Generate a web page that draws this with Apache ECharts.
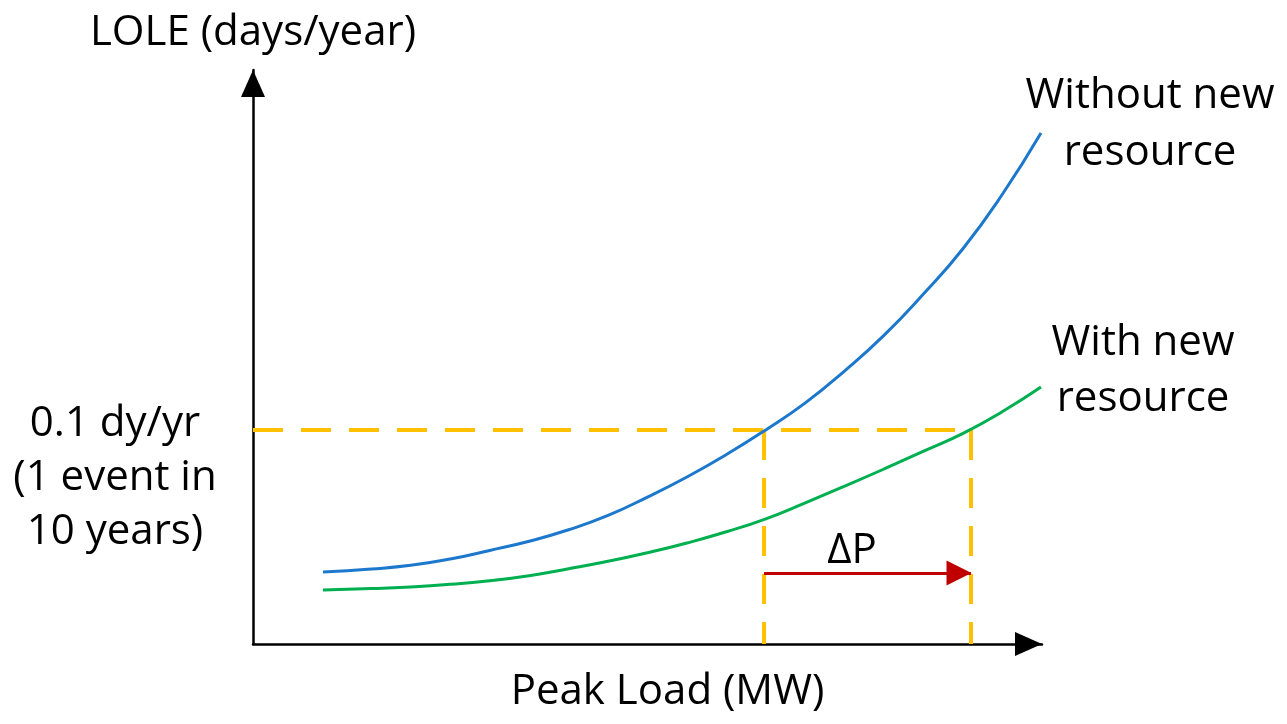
<!DOCTYPE html>
<html><head><meta charset="utf-8">
<script src="https://cdn.jsdelivr.net/npm/echarts@6/dist/echarts.min.js"></script>
<style>html,body{margin:0;padding:0;background:#fff}#c{width:1287px;height:724px}</style>
</head><body><div id="c"></div>
<script>
// Peak load (x) and LOLE (y) on a normalised 0-100 scale
const loadSteps = [8.87, 15, 20, 25, 30, 35, 40, 45, 50, 55, 60, 65, 70, 75, 80, 85, 90, 95, 99.87];
const withoutLole = [12.54, 13.07, 13.7, 14.8, 16.3, 17.9, 19.9, 22.4, 25.6, 29.1, 33.0, 37.3, 42.0, 47.6, 53.8, 61.0, 68.9, 78.4, 89.02];
const withLole = [9.41, 9.65, 9.95, 10.4, 11.0, 11.9, 13.1, 14.4, 15.9, 17.6, 19.55, 21.8, 24.6, 27.5, 30.5, 33.6, 36.7, 40.5, 44.77];
const criterionLole = 37.28;            // 0.1 dy/yr
const crossLoad = [64.77, 91.0];        // peak load meeting the criterion: without / with new resource
const deltaPLevel = 12.37;

const FONT = '"Open Sans", Lato, sans-serif';
const FS = 42;
const pair = (xs, ys) => xs.map((x, i) => [x, ys[i]]);
const dash = { color: '#FFC000', width: 4, type: [30, 18] };

const chart = echarts.init(document.getElementById('c'));
chart.setOption({
  animation: false,
  grid: { left: 253, right: 245, top: 70, bottom: 80 },
  xAxis: {
    type: 'value', min: 0, max: 100,
    name: 'Peak Load (MW)', nameLocation: 'middle', nameGap: 25,
    nameTextStyle: { color: '#000', fontSize: FS, fontFamily: FONT, lineHeight: 46, padding: [0, 0, 0, 40] },
    axisLine: { show: true, symbol: ['none', 'triangle'], symbolSize: [24, 27], symbolOffset: [0, -13.5], lineStyle: { color: '#000', width: 2.5 } },
    axisTick: { show: false }, axisLabel: { show: false }, splitLine: { show: false }
  },
  yAxis: {
    type: 'value', min: 0, max: 100,
    name: 'LOLE (days/year)', nameLocation: 'end', nameGap: 14,
    nameTextStyle: { color: '#000', fontSize: FS, fontFamily: FONT, lineHeight: 46 },
    axisLine: { show: true, symbol: ['none', 'triangle'], symbolSize: [24, 27], symbolOffset: [0, -13.5], lineStyle: { color: '#000', width: 2.5 } },
    axisTick: { show: false }, axisLabel: { show: false }, splitLine: { show: false }
  },
  series: [
    { type: 'line', name: 'criterion', data: [[0, criterionLole], [crossLoad[1], criterionLole]], symbol: 'none', lineStyle: dash, z: 1, silent: true },
    { type: 'line', name: 'crossWithout', data: [[crossLoad[0], criterionLole], [crossLoad[0], 0]], symbol: 'none', lineStyle: dash, z: 1, silent: true },
    { type: 'line', name: 'crossWith', data: [[crossLoad[1], criterionLole], [crossLoad[1], 0]], symbol: 'none', lineStyle: dash, z: 1, silent: true },
    { type: 'line', name: 'Without new resource', data: pair(loadSteps, withoutLole), symbol: 'none', smooth: 0.5,
      lineStyle: { color: '#1C78CC', width: 3 }, z: 3, silent: true },
    { type: 'line', name: 'With new resource', data: pair(loadSteps, withLole), symbol: 'none', smooth: 0.5,
      lineStyle: { color: '#00B050', width: 3 }, z: 3, silent: true },
    { type: 'line', name: 'deltaP', data: [], symbol: 'none', z: 4,
      markLine: {
        silent: true, animation: false,
        symbol: ['none', 'triangle'], symbolSize: 25, symbolOffset: [0, [0, 12]],
        lineStyle: { color: '#C00000', width: 3, type: 'solid' },
        itemStyle: { color: '#C00000' },
        label: { show: false }, emphasis: { disabled: true },
        data: [[{ coord: [crossLoad[0], deltaPLevel] }, { coord: [crossLoad[1], deltaPLevel] }]]
      } }
  ],
  graphic: [
    { type: 'text', x: 115, y: 397, style: { text: '0.1 dy/yr\n(1 event in\n10 years)', font: FS + 'px ' + FONT, fill: '#000', textAlign: 'center', textVerticalAlign: 'top', lineHeight: 54 } },
    { type: 'text', x: 852, y: 551, style: { text: 'ΔP', font: FS + 'px ' + FONT, fill: '#000', textAlign: 'center', textVerticalAlign: 'middle' } },
    { type: 'text', x: 1150, y: 125, style: { text: 'Without new\nresource', font: FS + 'px ' + FONT, fill: '#000', textAlign: 'center', textVerticalAlign: 'middle', lineHeight: 57 } },
    { type: 'text', x: 1143, y: 371, style: { text: 'With new\nresource', font: FS + 'px ' + FONT, fill: '#000', textAlign: 'center', textVerticalAlign: 'middle', lineHeight: 56 } }
  ]
});
</script></body></html>
